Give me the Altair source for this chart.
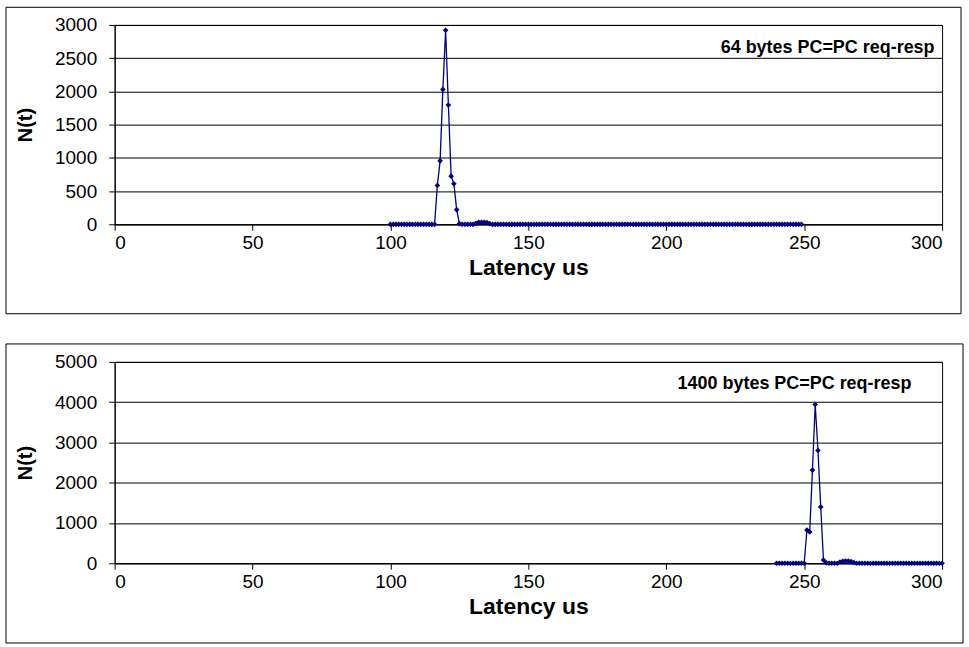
import altair as alt
import pandas as pd

# ---- data ----
top_t = list(range(100, 250))
top_n = ([0] * 17 +
         [585, 955, 2030, 2920, 1795, 725, 610, 220, 10] +
         [0] * 5 +
         [15, 30, 30, 30, 25, 10] +
         [0] * 113)

bot_t = list(range(240, 301))
bot_n = ([0] * 10 +
         [0, 826, 776, 2314, 3943, 2800, 1400, 80, 10] +
         [0] * 4 +
         [30, 50, 55, 55, 45, 20] +
         [0] * 32)

x_ticks = [0, 50, 100, 150, 200, 250, 300]
top_y_ticks = [0, 500, 1000, 1500, 2000, 2500, 3000]
bot_y_ticks = [0, 1000, 2000, 3000, 4000, 5000]

top_label = "64 bytes PC=PC req-resp"
bot_label = "1400 bytes PC=PC req-resp"

FONT = "Liberation Sans"
NAVY = "#000080"


def panel(t, n, ymax, yticks, label, lx, ly, w, h, fx0, fx1, fy0, fy1):
    df = pd.DataFrame({"t": t, "n": n})
    x = alt.X("t:Q", scale=alt.Scale(domain=[0, 300], nice=False, zero=False),
              axis=alt.Axis(values=x_ticks, title="Latency us", grid=False,
                            format="d", labelPadding=3, tickSize=6,
                            labelOverlap=False,
                            titleX=w / 2, titleY=43, titleBaseline="middle"))
    y = alt.Y("n:Q", scale=alt.Scale(domain=[0, ymax], nice=False),
              axis=alt.Axis(values=yticks, title="N(t)", grid=True, format="d",
                            labelPadding=12, tickSize=6, labelOverlap=False,
                            titleX=-89, titleY=h / 2, titleBaseline="middle",
                            titleAngle=270))
    base = alt.Chart(df)
    line = base.mark_line(color=NAVY, strokeWidth=1.3).encode(x=x, y=y)
    pts = base.mark_point(shape="diamond", filled=True, size=32, color=NAVY,
                          opacity=1).encode(x=x, y=y)
    frame = alt.Chart(pd.DataFrame({"k": [0]})).mark_rect(
        fillOpacity=0, stroke="black", strokeWidth=1, clip=False
    ).encode(x=alt.value(fx0), x2=alt.value(fx1), y=alt.value(fy0), y2=alt.value(fy1))
    txt = alt.Chart(pd.DataFrame({"t": [lx], "n": [ly], "s": [label]})).mark_text(
        font=FONT, fontSize=18, fontWeight="bold", color="black", align="center",
        baseline="middle"
    ).encode(x=x, y=y, text="s:N")
    return alt.layer(frame, line, pts, txt).properties(width=w, height=h)


top = panel(top_t, top_n, 3000, top_y_ticks, top_label, 258.5, 2660,
            830, 200, -109, 849, -17.7, 289.7)
bot = panel(bot_t, bot_n, 5000, bot_y_ticks, bot_label, 246.5, 4455,
            830, 202, -109, 851, -18, 282)

chart = alt.vconcat(top, bot, spacing=28).properties(
    padding={"left": 5, "top": 5, "right": 5, "bottom": 5},
    background="white",
).configure_view(stroke="black", strokeWidth=1).configure_axis(
    labelFont=FONT, labelFontSize=19, labelColor="black",
    titleFont=FONT, titleFontSize=23, titleFontWeight="bold", titleColor="black",
    domainColor="black", tickColor="black", gridColor="black", gridWidth=1,
    domainWidth=1, tickWidth=1,
).configure_axisY(titleFontSize=20)

chart.save("out.html", embed_options={"renderer": "svg", "actions": False})
